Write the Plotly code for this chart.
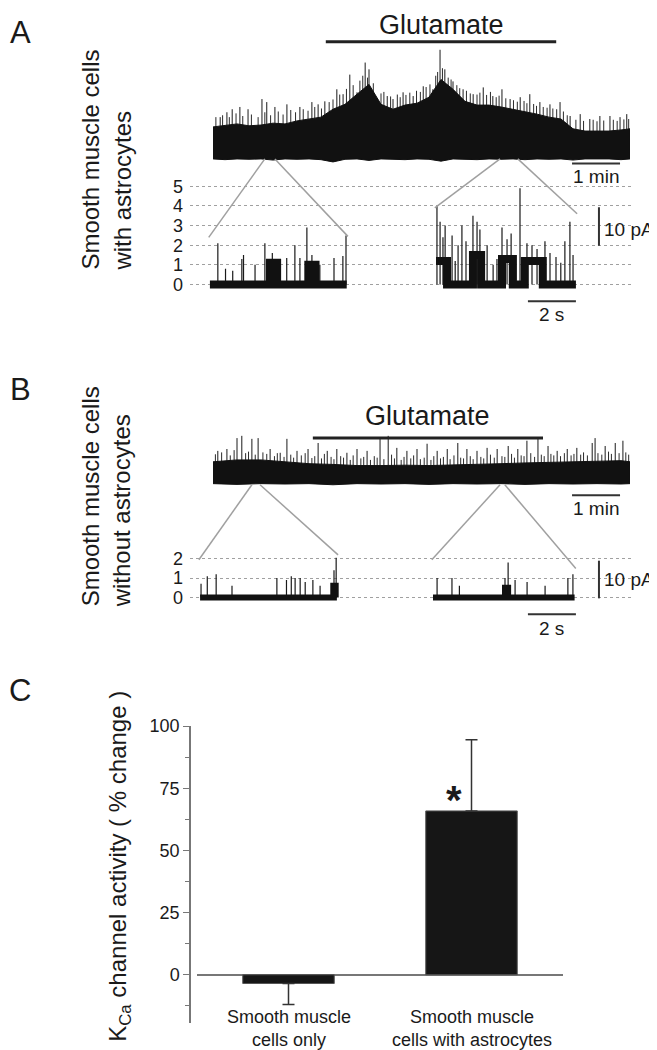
import plotly.graph_objects as go

# The page body adds an 8 px margin, so the figure is drawn 8 px smaller and all
# reference pixel positions are shifted by OFF.
OFF = 8
W, H = 657 - OFF, 1050 - OFF
FONT = "Liberation Sans, Arial, sans-serif"
INK = "#111111"
GREY = "#a0a0a0"

# ---------------- Panel A: long recording (time in min, current in pA) ----------------
a_band_t = [0, 0.25, 0.5, 0.75, 1.0, 1.25, 1.5, 1.75, 2.0, 2.25, 2.5, 2.75, 3.0, 3.25,
            3.5, 3.75, 4.0, 4.25, 4.5, 4.75, 5.0, 5.25, 5.5, 5.75, 6.0, 6.25, 6.5, 6.75,
            7.0, 7.25, 7.5, 7.75, 8.0, 8.25, 8.5, 8.69]
a_band_top = [7.9, 8.4, 8.7, 8.2, 8.4, 8.9, 8.7, 9.5, 10.0, 10.5, 12.6, 13.9, 16.6, 19.2,
              13.9, 12.6, 13.7, 14.2, 15.8, 20.5, 17.9, 14.7, 13.7, 13.7, 13.2, 12.6, 12.1,
              11.3, 10.5, 10.0, 7.4, 6.8, 6.8, 6.8, 7.1, 7.4]
a_band_low = [-0.6, -0.8, -0.6, -0.7, -0.6, -0.9, -0.6, -0.7, -0.6, -0.8, -1.4, -0.7, -0.6,
              -1.0, -0.6, -0.7, -0.8, -0.6, -0.7, -1.2, -0.6, -0.7, -0.8, -0.6, -0.7, -0.6,
              -0.8, -0.6, -0.7, -0.6, -0.9, -0.6, -0.7, -0.6, -0.8, -0.6]
a_spike_t = [0.15, 0.29, 0.40, 0.56, 0.73, 1.02, 1.12, 1.29, 1.54, 1.81, 2.06, 2.19, 2.33,
             2.58, 2.71, 2.85, 3.00, 3.17, 3.25, 3.42, 3.63, 3.75, 3.96, 4.17, 4.38, 4.58,
             4.73, 4.83, 5.00, 5.21, 5.42, 5.63, 5.83, 6.02, 6.19, 6.40, 6.60, 6.81, 7.02,
             7.23, 7.44, 7.65, 7.85, 8.06, 8.27, 8.48, 8.62]
a_spike_h = [10.5, 11.8, 12.6, 13.2, 12.6, 15.3, 14.5, 13.2, 13.9, 13.2, 14.5, 13.9, 14.7,
             17.9, 16.6, 21.8, 17.1, 25.0, 23.2, 15.3, 16.1, 15.3, 17.1, 16.1, 18.7, 17.9,
             28.4, 23.2, 20.0, 17.9, 16.6, 18.4, 16.1, 17.9, 15.3, 15.8, 16.6, 14.5, 13.9,
             14.5, 10.8, 11.3, 10.0, 10.8, 10.8, 10.5, 11.3]
a_minor_t = [0.06, 0.2, 0.34, 0.48, 0.62, 0.8, 0.94, 1.08, 1.2, 1.36, 1.46, 1.62, 1.72,
             1.88, 1.98, 2.12, 2.26, 2.42, 2.5, 2.64, 2.78, 2.92, 3.06, 3.12, 3.22, 3.34,
             3.5, 3.56, 3.7, 3.84, 3.9, 4.02, 4.1, 4.24, 4.32, 4.44, 4.52, 4.64, 4.68, 4.78,
             4.9, 4.96, 5.08, 5.14, 5.28, 5.36, 5.5, 5.56, 5.7, 5.78, 5.9, 5.96, 6.1, 6.26,
             6.34, 6.48, 6.54, 6.68, 6.74, 6.88, 6.96, 7.08, 7.16, 7.3, 7.38, 7.56, 7.72,
             7.92, 8.0, 8.14, 8.34, 8.42, 8.56, 8.66]
a_minor_h = [10.5, 11.0, 10.5, 11.5, 10.8, 11.2, 10.5, 11.8, 11.0, 12.0, 11.2, 12.4, 11.8,
             12.6, 12.2, 13.2, 12.8, 14.5, 15.2, 16.5, 18.0, 19.0, 20.2, 21.5, 21.0, 19.5,
             16.8, 17.2, 16.0, 16.5, 15.8, 16.4, 17.0, 17.5, 17.2, 18.5, 19.2, 21.5, 22.5,
             23.5, 21.0, 20.5, 19.0, 18.2, 17.5, 16.8, 16.5, 17.0, 16.4, 17.2, 15.8, 16.2,
             15.5, 15.0, 14.6, 14.8, 14.2, 14.0, 13.5, 13.2, 13.0, 12.8, 12.6, 12.0, 11.0,
             9.8, 9.5, 9.8, 9.4, 9.6, 9.8, 9.5, 9.9, 10.0]
a_glutamate = (2.35, 7.15)

# ---------------- Panel B: long recording ----------------
b_band_t = [0, 0.5, 1.0, 1.5, 2.0, 2.5, 3.0, 3.5, 4.0, 4.5, 5.0, 5.5, 6.0, 6.5, 7.0, 7.5,
            8.0, 8.5, 8.69]
b_band_top = [5.5, 6.0, 6.0, 5.5, 5.0, 4.8, 4.5, 4.5, 4.6, 4.5, 4.6, 4.7, 5.0, 5.2, 5.4,
              5.6, 5.6, 5.8, 5.5]
b_band_low = [-0.3, -0.5, -0.3, -0.4, -0.3, -0.6, -0.3, -0.4, -0.3, -0.5, -0.3, -0.4,
              -0.3, -0.5, -0.3, -0.4, -0.3, -0.4, -0.3]
b_spike_t = [0.10, 0.29, 0.50, 0.60, 0.81, 0.94, 1.19, 1.40, 1.54, 1.75, 1.98, 2.19, 2.38,
             2.58, 2.79, 3.00, 3.21, 3.48, 3.65, 3.83, 4.04, 4.25, 4.46, 4.67, 4.88, 5.10,
             5.29, 5.50, 5.71, 5.92, 6.15, 6.35, 6.54, 6.77, 6.98, 7.17, 7.38, 7.58, 7.90,
             7.96, 8.17, 8.38, 8.54]
b_spike_h = [8.4, 8.9, 11.8, 12.4, 11.6, 11.8, 8.9, 7.9, 11.6, 8.4, 8.9, 10.5, 8.4, 8.9,
             7.9, 8.9, 8.4, 11.6, 12.4, 9.2, 8.4, 8.9, 10.3, 8.4, 8.9, 10.5, 8.9, 8.4, 9.2,
             8.9, 9.7, 8.9, 11.1, 11.8, 9.7, 8.4, 8.9, 9.2, 10.5, 11.8, 9.7, 10.5, 11.1]
b_minor_t = [0.05, 0.18, 0.36, 0.44, 0.68, 0.74, 0.88, 1.04, 1.12, 1.28, 1.34, 1.48, 1.62,
             1.68, 1.84, 1.92, 2.06, 2.12, 2.26, 2.32, 2.46, 2.52, 2.66, 2.72, 2.86, 2.92,
             3.08, 3.14, 3.28, 3.36, 3.42, 3.56, 3.72, 3.78, 3.92, 3.98, 4.12, 4.18, 4.32,
             4.4, 4.54, 4.6, 4.74, 4.8, 4.94, 5.02, 5.16, 5.22, 5.36, 5.42, 5.58, 5.64, 5.78,
             5.86, 6.02, 6.08, 6.22, 6.28, 6.42, 6.48, 6.62, 6.7, 6.84, 6.9, 7.04, 7.1, 7.24,
             7.32, 7.46, 7.52, 7.66, 7.72, 7.8, 8.02, 8.1, 8.24, 8.3, 8.46, 8.6, 8.66]
b_minor_h = [7.5, 8.0, 7.2, 8.6, 7.8, 8.2, 7.4, 8.0, 7.6, 7.0, 7.8, 6.8, 7.4, 6.6, 7.2, 7.8,
             6.5, 7.0, 6.4, 7.6, 6.8, 6.2, 7.0, 6.6, 6.0, 7.2, 6.4, 6.8, 6.0, 7.0, 6.6, 6.2,
             7.4, 6.4, 6.0, 6.8, 6.4, 7.2, 6.2, 6.6, 6.0, 7.0, 6.4, 6.8, 6.2, 7.2, 6.6, 6.4,
             7.0, 6.2, 6.8, 6.4, 7.4, 6.6, 7.0, 6.8, 7.6, 6.6, 7.2, 7.0, 7.8, 6.8, 7.4, 7.0,
             7.6, 7.2, 7.0, 7.8, 7.2, 7.6, 7.4, 8.0, 7.2, 7.8, 7.4, 8.2, 7.6, 7.8, 8.0, 7.4]
b_glutamate = (2.08, 6.875)

# ---------------- Expanded traces (time in s, current in channel levels) ----------------
a1_step_t = [0, 2.5, 2.8, 4.1, 4.4, 5.7]
a1_step_lv = [0, 1.1, 0, 1.0, 0, 0]
a1_spike_t = [0.33, 0.65, 0.95, 1.33, 1.40, 1.88, 2.29, 2.6, 3.20, 3.54, 3.75, 4.04, 4.25,
              4.58, 5.17, 5.54, 5.67]
a1_spike_lv = [2.1, 0.8, 0.7, 1.3, 1.5, 1.0, 2.1, 1.6, 1.35, 2.0, 1.35, 2.9, 1.5, 1.0,
               1.35, 1.45, 2.5]

a2_step_t = [0, 0.46, 1.54, 1.88, 2.75, 3.2, 3.7, 4.45, 5.83]
a2_step_lv = [1.2, 0, 1.5, 0, 1.3, 0, 1.2, 0, 0]
a2_spike_t = [0.04, 0.17, 0.29, 0.38, 0.52, 0.67, 0.8, 0.92, 1.08, 1.25, 1.4, 1.54, 1.71,
              1.83, 2.13, 2.38, 2.54, 2.75, 2.96, 3.13, 3.33, 3.50, 3.79, 4.00, 4.21, 4.54,
              4.75, 5.00, 5.2, 5.37, 5.58, 5.71]
a2_spike_lv = [4.0, 3.2, 2.4, 3.0, 1.4, 2.5, 1.2, 2.0, 3.0, 2.2, 1.5, 3.5, 3.2, 2.8, 2.0,
               1.0, 1.3, 2.9, 2.3, 2.6, 1.5, 4.9, 2.1, 2.0, 1.8, 2.2, 1.6, 1.4, 1.1, 2.2,
               3.2, 1.5]

b1_step_t = [0, 5.55, 5.65, 5.7]
b1_step_lv = [0, 0.6, 0, 0]
b1_spike_t = [0.04, 0.30, 0.67, 1.33, 3.20, 3.60, 3.80, 3.96, 4.17, 4.38, 4.70, 5.00, 5.58,
              5.67]
b1_spike_lv = [0.7, 1.1, 1.2, 0.6, 1.0, 0.9, 1.1, 1.0, 1.0, 0.8, 0.9, 0.6, 1.4, 2.05]

b2_step_t = [0, 3.0, 3.13, 5.9]
b2_step_lv = [0, 0.5, 0, 0]
b2_spike_t = [0.17, 0.79, 1.10, 3.00, 3.13, 3.42, 3.92, 4.67, 5.62, 5.83]
b2_spike_lv = [1.0, 1.0, 0.6, 1.0, 1.8, 0.9, 0.8, 0.6, 1.0, 1.2]

# ---------------- Panel C: summary ----------------
groups = ["Smooth muscle<br>cells only", "Smooth muscle<br>cells with astrocytes"]
group_keys = ["only", "with"]
kca_change = [-3.5, 65.9]
kca_err_up = [0, 28.6]
kca_err_down = [8.5, 0]

# ---------------- axes geometry (reference pixel boxes) ----------------
AX = {
    "": dict(xpx=(213, 630), xr=(0, 8.6875), ypx=(8, 180), yr=(-8.42, 36.84)),
    "2": dict(xpx=(190, 632), xr=(0, 18.4167), ypx=(170, 320), yr=(-2.172, 5.404)),
    "3": dict(xpx=(213, 630), xr=(0, 8.6875), ypx=(395, 515), yr=(-10.0, 21.58)),
    "4": dict(xpx=(190, 632), xr=(0, 18.4167), ypx=(535, 640), yr=(-2.41, 2.974)),
}
ZOOM_OFF = {"a1": 0.83, "a2": 10.25, "b1": 0.42, "b2": 10.125}


def pxx(px):
    return (px - OFF) / W


def pxy(py):
    return 1 - (py - OFF) / H


def px2paper(ax, xv, yv):
    a = AX[ax]
    fx = (xv - a["xr"][0]) / (a["xr"][1] - a["xr"][0])
    fy = (yv - a["yr"][0]) / (a["yr"][1] - a["yr"][0])
    px = a["xpx"][0] + fx * (a["xpx"][1] - a["xpx"][0])
    py = a["ypx"][1] - fy * (a["ypx"][1] - a["ypx"][0])
    return pxx(px), pxy(py)


def spikes(ts, hs, off=0.0, base=0.0):
    xs, ys = [], []
    for t, h in zip(ts, hs):
        xs += [off + t, off + t, None]
        ys += [base, h, None]
    return xs, ys


fig = go.Figure()


def add_lines(xs, ys, ax, color, width, shape="linear"):
    fig.add_trace(go.Scatter(
        x=xs, y=ys, mode="lines", line=dict(color=color, width=width, shape=shape),
        xaxis="x" + ax, yaxis="y" + ax, hoverinfo="skip", showlegend=False))


def add_long(ax, band_t, top, low, sp_t, sp_h, mi_t, mi_h):
    add_lines(*spikes(mi_t, mi_h), ax, "#2a2a2a", 1)
    add_lines(*spikes(sp_t, sp_h), ax, "#1a1a1a", 1)
    fig.add_trace(go.Scatter(
        x=band_t + band_t[::-1], y=top + low[::-1], fill="toself", fillcolor=INK,
        mode="lines", line=dict(color=INK, width=1),
        xaxis="x" + ax, yaxis="y" + ax, hoverinfo="skip", showlegend=False))


def add_zoom(ax, key, step_t, step_lv, sp_t, sp_lv, thick):
    off = ZOOM_OFF[key]
    add_lines(*spikes(sp_t, sp_lv, off), ax, "#1a1a1a", 1.2)
    add_lines([off + t for t in step_t], step_lv, ax, INK, thick, "hv")


add_long("", a_band_t, a_band_top, a_band_low, a_spike_t, a_spike_h, a_minor_t, a_minor_h)
add_long("3", b_band_t, b_band_top, b_band_low, b_spike_t, b_spike_h, b_minor_t, b_minor_h)
add_zoom("2", "a1", a1_step_t, a1_step_lv, a1_spike_t, a1_spike_lv, 8)
add_zoom("2", "a2", a2_step_t, a2_step_lv, a2_spike_t, a2_spike_lv, 8)
add_zoom("4", "b1", b1_step_t, b1_step_lv, b1_spike_t, b1_spike_lv, 6)
add_zoom("4", "b2", b2_step_t, b2_step_lv, b2_spike_t, b2_spike_lv, 6)

# Panel C bars
fig.add_trace(go.Bar(
    x=group_keys, y=kca_change, width=0.5,
    marker=dict(color="#161616", line=dict(color="#555555", width=1)),
    error_y=dict(type="data", symmetric=False, array=kca_err_up, arrayminus=kca_err_down,
                 color="#333333", thickness=1.5, width=6),
    xaxis="x5", yaxis="y5", hoverinfo="skip", showlegend=False))

shapes = []
annotations = []


def line(x0, y0, x1, y1, xref, yref, color="#333333", width=2):
    shapes.append(dict(type="line", x0=x0, y0=y0, x1=x1, y1=y1, xref=xref, yref=yref,
                       line=dict(color=color, width=width)))


def text(s, x, y, xref, yref, size, **kw):
    opts = dict(xanchor="center", yanchor="middle")
    opts.update(kw)
    annotations.append(dict(text=s, x=x, y=y, xref=xref, yref=yref, showarrow=False,
                            font=dict(family=FONT, size=size, color="#1a1a1a"), **opts))


# Glutamate bars and labels
line(a_glutamate[0], 30.5, a_glutamate[1], 30.5, "x", "y", "#222222", 3)
text("Glutamate", sum(a_glutamate) / 2, 35.0, "x", "y", 27)
line(b_glutamate[0], 11.8, b_glutamate[1], 11.8, "x3", "y3", "#222222", 3)
text("Glutamate", sum(b_glutamate) / 2, 17.6, "x3", "y3", 27)

# 1 min scale bars
line(7.48, -1.84, 8.48, -1.84, "x", "y")
text("1 min", 7.98, -5.3, "x", "y", 19)
line(7.48, -3.4, 8.48, -3.4, "x3", "y3")
text("1 min", 7.98, -6.9, "x3", "y3", 19)

# 2 s and 10 pA bars on expanded traces
line(14.08, -0.86, 16.08, -0.86, "x2", "y2")
text("2 s", 15.08, -1.55, "x2", "y2", 19)
line(17.04, 1.97, 17.04, 3.94, "x2", "y2")
text("10 pA", 17.15, 2.8, "x2", "y2", 19, xanchor="left")
line(14.08, -0.87, 16.08, -0.87, "x4", "y4")
text("2 s", 15.08, -1.6, "x4", "y4", 19)
line(17.04, -0.05, 17.04, 1.9, "x4", "y4")
text("10 pA", 17.15, 0.92, "x4", "y4", 19, xanchor="left")

# connector lines from long trace to expanded traces
connectors = [
    ("", "2", (1.08, 1.29), "a1", 5.7, (2.4, 2.45)),
    ("", "2", (5.98, 6.35), "a2", 5.83, (3.9, 3.6)),
    ("3", "4", (0.81, 0.98), "b1", 5.7, (1.95, 2.2)),
    ("3", "4", (5.98, 6.08), "b2", 5.9, (1.95, 1.5)),
]
for src, dst, win, key, dur, lv in connectors:
    off = ZOOM_OFF[key]
    for t_src, t_dst, l in [(win[0], off - 0.05, lv[0]), (win[1], off + dur + 0.05, lv[1])]:
        x0, y0 = px2paper(src, t_src, -0.6)
        x1, y1 = px2paper(dst, t_dst, l)
        line(x0, y0, x1, y1, "paper", "paper", GREY, 1.5)

# panel letters and side labels
for letter, ypx in [("A", 23), ("B", 383), ("C", 687)]:
    text(letter, pxx(20), pxy(ypx), "paper", "paper", 31)
text("Smooth muscle cells<br>with astrocytes", pxx(106), pxy(152), "paper", "paper", 24,
     textangle=-90, align="left")
text("Smooth muscle cells<br>without astrocytes", pxx(106), pxy(492), "paper", "paper", 24,
     textangle=-90, align="left")

# panel C texts
for key, lab in zip(group_keys, groups):
    text(lab, key, pxy(1028), "x5", "paper", 18)
text("<b>*</b>", group_keys[1], 74, "x5", "y5", 40, xshift=-18, yshift=-9)
text("K<sub>Ca</sub> channel activity ( % change )", pxx(120), pxy(865), "paper", "paper",
     24, textangle=-90)


def dom_x(a, b):
    return [pxx(a), pxx(b)]


def dom_y(top, bottom):
    return [pxy(bottom), pxy(top)]


hidden = dict(visible=False, fixedrange=True)
layout_axes = {}
for ax, a in AX.items():
    layout_axes["xaxis" + ax] = dict(hidden, domain=dom_x(*a["xpx"]), range=list(a["xr"]),
                                     anchor="y" + ax)
    layout_axes["yaxis" + ax] = dict(hidden, domain=dom_y(*a["ypx"]), range=list(a["yr"]),
                                     anchor="x" + ax)

for ax, ticks in [("2", [0, 1, 2, 3, 4, 5]), ("4", [0, 1, 2])]:
    layout_axes["yaxis" + ax] = dict(
        domain=dom_y(*AX[ax]["ypx"]), range=list(AX[ax]["yr"]), anchor="x" + ax,
        tickvals=ticks, showgrid=True, gridcolor=GREY, griddash="dot", gridwidth=1,
        zeroline=False, showline=False, ticks="", ticklabelstandoff=6,
        tickfont=dict(family=FONT, size=18, color="#1a1a1a"), fixedrange=True)

layout_axes["xaxis5"] = dict(domain=dom_x(197, 563), range=[-0.5, 1.5], anchor="y5",
                             showticklabels=False, showline=False, ticks="", showgrid=False,
                             zeroline=False, fixedrange=True)
layout_axes["yaxis5"] = dict(
    domain=dom_y(723, 1023), range=[-19.5, 100], anchor="free", position=pxx(190),
    tickvals=[0, 25, 50, 75, 100], ticks="outside", ticklen=6, tickcolor="#777777",
    showline=True, linecolor="#777777", linewidth=1.5, showgrid=False,
    zeroline=True, zerolinecolor="#777777", zerolinewidth=1.5,
    minor=dict(ticks="outside", ticklen=4, tickcolor="#777777",
               tickvals=[-12.5, 12.5, 37.5, 62.5, 87.5]),
    tickfont=dict(family=FONT, size=18, color="#1a1a1a"), fixedrange=True)

fig.update_layout(
    width=W, height=H, margin=dict(l=0, r=0, t=0, b=0),
    paper_bgcolor="white", plot_bgcolor="white",
    font=dict(family=FONT, color="#1a1a1a"),
    showlegend=False, shapes=shapes, annotations=annotations,
    **layout_axes)

fig.write_html("out.html")
